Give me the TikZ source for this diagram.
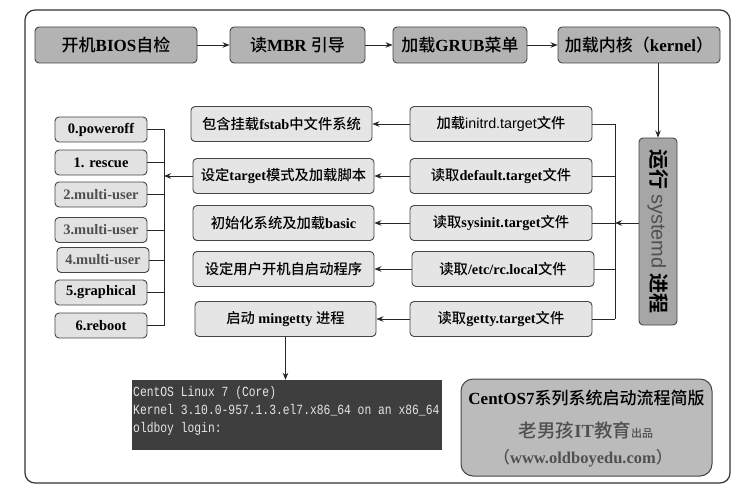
\documentclass[tikz,border=0pt]{standalone}
\usepackage{fontspec}
\setmainfont{Liberation Serif}
\setsansfont{Liberation Sans}
\newfontfamily\cjk{Noto Sans CJK SC}[UprightFont={* Medium}, BoldFont={* Bold}]
\newfontfamily\termfont{Liberation Mono}[FakeStretch=0.81]
\usetikzlibrary{arrows.meta}
\newcommand\zh[1]{{\cjk\mdseries #1}}
\newcommand\zhb[1]{{\cjk\bfseries #1}}
\definecolor{topgray}{HTML}{B3B3B3}
\definecolor{midgray}{HTML}{E5E5E5}
\definecolor{rlgray}{HTML}{E2E2E2}
\definecolor{sysgray}{HTML}{A6A6A6}
\definecolor{infogray}{HTML}{BBBBBB}
\definecolor{termgray}{HTML}{3E3E3E}
\definecolor{edge}{HTML}{454545}
\definecolor{txtgray}{HTML}{505050}
\begin{document}
\begin{tikzpicture}[x=1pt,y=-1pt,
  box/.style={draw=edge, line width=0.9pt, rounded corners=4pt, inner sep=0pt, font=\bfseries},
  topbox/.style={box, fill=topgray, minimum height=36pt, font=\fontsize{17}{17}\selectfont\bfseries},
  midbox/.style={box, fill=midgray, minimum width=182pt, minimum height=35pt, font=\fontsize{14.3}{14.3}\selectfont\bfseries},
  rlbox/.style={box, fill=rlgray, minimum width=92pt, minimum height=25pt, font=\fontsize{14.5}{14.5}\selectfont\bfseries},
  arr/.style={draw=black!85, line width=0.9pt, -{Stealth[length=7pt,width=5.5pt]}},
  ln/.style={draw=black!85, line width=0.9pt}]
\useasboundingbox (0,0) rectangle (739,500);
\draw[draw=black!80, line width=1.2pt, rounded corners=10pt] (25,10) rectangle (730,483);

% top row
\node[topbox, minimum width=162pt] (b1) at (116,45) {\zh{开机}BIOS\zh{自检}};
\node[topbox, minimum width=135pt] (b2) at (297.5,45) {\zh{读}MBR \zh{引导}};
\node[topbox, minimum width=134pt] (b3) at (460,45) {\zh{加载}GRUB\zh{菜单}};
\node[topbox, minimum width=162pt] (b4) at (639,45) {\zh{加载内核（}kernel\zh{）}};
\draw[arr] (b1) -- (b2);
\draw[arr] (b2) -- (b3);
\draw[arr] (b3) -- (b4);

% systemd
\node[box, fill=sysgray, rotate=-90, minimum width=187pt, minimum height=38pt,
      font=\fontsize{20}{20}\selectfont] (sys) at (658,231.5)
  {\zhb{运行} {\sffamily\mdseries\color{txtgray}systemd} \zhb{进程}};
\draw[arr] (b4.south -| sys) -- (sys.west);

% right column
\node[midbox] (initrd) at (501,124) {\zh{加载}{\sffamily\mdseries initrd.target}\zh{文件}};
\node[midbox] (deft) at (501,176) {\zh{读取}default.target\zh{文件}};
\node[midbox] (sysinit) at (501,223) {\zh{读取}sysinit.target\zh{文件}};
\node[midbox] (rcl) at (503,269) {\zh{读取}/etc/rc.local\zh{文件}};
\node[midbox] (getty) at (501,319) {\zh{读取}getty.target\zh{文件}};
\coordinate (busR) at (615,223);
\draw[arr] (sysinit.east -| sys.south) -- (busR);
\foreach \n in {initrd,deft,sysinit,rcl,getty} \draw[ln] (\n.east) -- (\n.east -| busR);
\draw[ln] (initrd.east -| busR) -- (getty.east -| busR);

% left-middle column
\node[midbox, minimum width=181pt] (fstab) at (281.5,124) {\zh{包含挂载}fstab\zh{中文件系统}};
\node[midbox, minimum width=181pt] (target) at (283.5,176) {\zh{设定}target\zh{模式及加载脚本}};
\node[midbox, minimum width=181pt] (basic) at (283.5,223) {\zh{初始化系统及加载}basic};
\node[midbox, minimum width=181pt] (user) at (283.5,269) {\zh{设定用户开机自启动程序}};
\node[midbox, minimum width=181pt] (ming) at (285.5,319) {\zh{启动} mingetty \zh{进程}};
\draw[arr] (initrd) -- (fstab);
\draw[arr] (deft) -- (target);
\draw[arr] (sysinit) -- (basic);
\draw[arr] (rcl) -- (user);
\draw[arr] (getty) -- (ming);

% run levels
\node[rlbox] (r0) at (101,129.5) {0.poweroff};
\node[rlbox] (r1) at (101,162.5) {1. rescue};
\node[rlbox, text=txtgray] (r2) at (101,194.5) {2.multi-user};
\node[rlbox, text=txtgray] (r3) at (101,230) {3.multi-user};
\node[rlbox, text=txtgray] (r4) at (103,260) {4.multi-user};
\node[rlbox] (r5) at (101,292.5) {5.graphical};
\node[rlbox] (r6) at (101,325.5) {6.reboot};
\coordinate (busL) at (164,176);
\draw[arr] (target) -- (busL);
\foreach \n in {r0,r1,r2,r3,r4,r5,r6} \draw[ln] (\n.east) -- (\n.east -| busL);
\draw[ln] (r0.east -| busL) -- (r6.east -| busL);

% terminal
\node[fill=termgray, minimum width=310pt, minimum height=70pt, inner sep=0pt] (term) at (287,415) {};
\node[anchor=north west, inner sep=0pt, align=left, text=white!90!black,
      font=\termfont\fontsize{14}{18}\selectfont] (termtxt) at (133,386)
  {CentOS Linux 7 (Core)\\Kernel 3.10.0-957.1.3.el7.x86\_64 on an x86\_64\\oldboy login:};
\draw[arr] (ming.south) -- (ming.south |- term.north);

% info box
\node[draw=edge, line width=1pt, fill=infogray, rounded corners=12pt, minimum width=251pt, minimum height=97pt] (info) at (586.5,427.5) {};
\node[font=\fontsize{17}{17}\selectfont\bfseries, inner sep=0pt] (i1) at (586.5,398) {CentOS7\zh{系列系统启动流程简版}};
\node[font=\fontsize{18.5}{18.5}\selectfont\bfseries, text=txtgray, inner sep=0pt] (i2) at (586,430) {\zh{老男孩}IT\zh{教育}{\fontsize{11}{11}\selectfont\zh{出品}}};
\node[font=\fontsize{16.5}{16.5}\selectfont\bfseries, text=txtgray, inner sep=0pt] (i3) at (583,458) {\zh{（}www.oldboyedu.com\zh{）}};
\end{tikzpicture}
\end{document}
